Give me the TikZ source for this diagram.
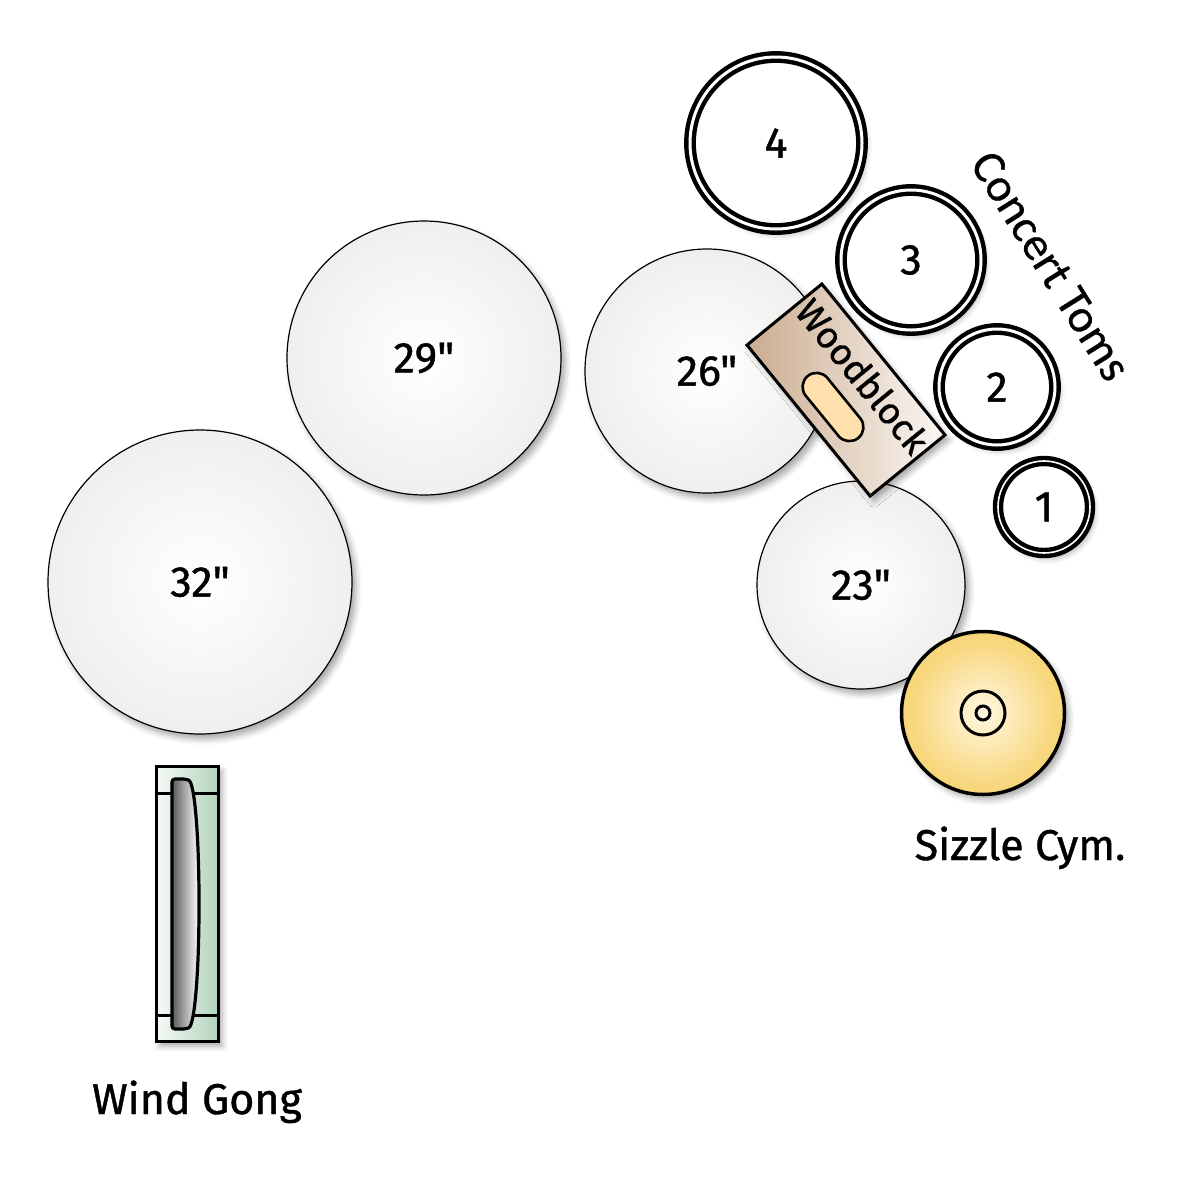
\documentclass[tikz,border=0pt]{standalone}
\usepackage{fontspec}
\newfontfamily\lblfont{Fira Sans}[FakeBold=1]
\newfontfamily\calib{Carlito}[FakeBold=0.6]
\usetikzlibrary{shadows.blur}
\definecolor{timpedge}{HTML}{E1DFDC}
\definecolor{cymc}{HTML}{FFF7E0}
\definecolor{cymm}{HTML}{F8D77E}
\definecolor{cyme}{HTML}{F1BE44}
\definecolor{woodA}{HTML}{CBAC8F}
\definecolor{woodB}{HTML}{FBF8F5}
\definecolor{slotc}{HTML}{FFDFAC}
\definecolor{gongA}{HTML}{F6FAF7}
\definecolor{gongB}{HTML}{B3D4BC}
\pgfdeclareradialshading{timpshade}{\pgfpoint{0bp}{0bp}}{color(0bp)=(white); color(50bp)=(timpedge); color(100bp)=(timpedge)}
\pgfdeclareradialshading{cymshade}{\pgfpoint{0bp}{0bp}}{color(0bp)=(cymc); color(22bp)=(cymm); color(48bp)=(cyme); color(100bp)=(cyme)}
\begin{document}
\begin{tikzpicture}[x=0.5pt,y=-0.5pt,
  lbl/.style={font=\lblfont\fontsize{21.5pt}{25pt}\selectfont},
  shad/.style={blur shadow={shadow xshift=2pt, shadow yshift=-2.5pt, shadow blur radius=3pt, shadow opacity=35}},
  timp/.style={circle, draw=black, line width=0.6pt, shade, shading=timpshade, shad, inner sep=0pt, lbl},
  tom/.style={circle, draw=black, double=white, line width=2.2pt, double distance=1.5pt, fill=white, shad, inner sep=0pt, lbl},
  cymb/.style={circle, draw=black, line width=1.75pt, shade, shading=cymshade, shad, inner sep=0pt},
  ring/.style={circle, draw=black, line width=1.5pt, inner sep=0pt},
]
\useasboundingbox (0,0) rectangle (1200,1179);

% timpani
\node[timp, minimum size=152pt] (t32) at (200,582) {32"};
\node[timp, minimum size=137pt] (t29) at (424,358) {29"};
\node[timp, minimum size=122pt] (t26) at (707,371) {26"};
\node[timp, minimum size=104pt] (t23) at (861,585) {23"};

% concert toms
\node[tom, minimum size=86pt] (tom4) at (776,143) {4};
\node[tom, minimum size=70pt] (tom3) at (911,260) {3};
\node[tom, minimum size=58pt] (tom2) at (997,387) {2};
\node[tom, double distance=0.8pt, minimum size=46pt] (tom1) at (1044,507) {1};
\node[font=\calib\fontsize{23.5pt}{27pt}\selectfont, rotate=-58] (toms) at (1051,266) {Concert Toms};

% woodblock
\node[draw=black, line width=1.5pt, rectangle, rotate=-50.8, minimum width=97.4pt, minimum height=48.3pt,
      left color=woodA, right color=woodB, shad] (wb) at (846,390) {};
\node[draw=black, line width=1.3pt, rectangle, rounded corners=7pt, rotate=-50.8, minimum width=40pt, minimum height=14pt, fill=slotc] (slot) at (833,407) {};
\node[font=\lblfont\fontsize{18.5pt}{22pt}\selectfont, rotate=-50.8] (wbl) at (863,376) {Woodblock};

% sizzle cymbal
\node[cymb, minimum size=81.5pt] (cym) at (983,713) {};
\node[ring, minimum size=22pt] (cymr) at (cym.center) {};
\node[ring, minimum size=7pt] (cymh) at (cym.center) {};
\node[lbl, anchor=base] (cyml) at (1020,860) {Sizzle Cym.};

% wind gong
\node[draw=black, line width=1.5pt, rectangle, minimum width=31pt, minimum height=137.5pt, inner sep=0pt,
      left color=gongA, right color=gongB, shad] (frame) at (187,903.5) {};
\draw[line width=1.5pt] (frame.west |- 0,793) -- (frame.east |- 0,793);
\draw[line width=1.5pt] (frame.west |- 0,1015) -- (frame.east |- 0,1015);
\draw[line width=1.6pt, left color=black!65, right color=white, rounded corners=1.5pt]
  (172,779) -- (186,779) .. controls (195,783) and (199,840) .. (199,904)
  .. controls (199,968) and (195,1025) .. (186,1029) -- (172,1029) -- cycle;
\node[lbl, anchor=base] (gongl) at (197,1114) {Wind Gong};
\end{tikzpicture}
\end{document}
